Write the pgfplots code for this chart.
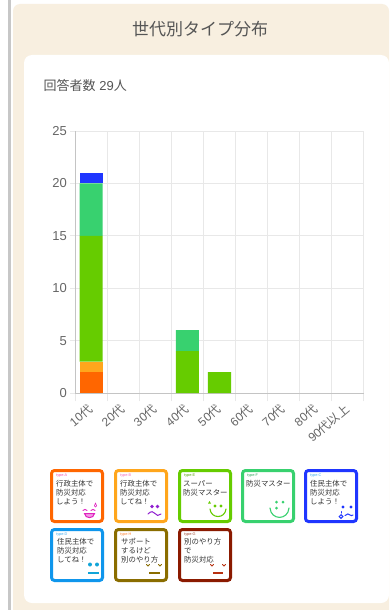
\documentclass[border=0pt]{standalone}
\usepackage{fontspec}
\usepackage{pgfplots}
\pgfplotsset{compat=1.18}
\setmainfont{Liberation Sans}
\newfontfamily\cjk{Noto Sans CJK JP}
\definecolor{cA}{HTML}{FF6600}
\definecolor{cB}{HTML}{FFA61C}
\definecolor{cE}{HTML}{66CC00}
\definecolor{cF}{HTML}{38D16F}
\definecolor{cC}{HTML}{1F36FF}
\definecolor{cD}{HTML}{0F96EC}
\definecolor{cH}{HTML}{8A6D00}
\definecolor{cG}{HTML}{8B1A00}
\definecolor{beige}{HTML}{F8EFE0}
\definecolor{txt}{HTML}{555555}
\definecolor{tick}{HTML}{666666}
\definecolor{gridc}{HTML}{E8E8E8}
\definecolor{axc}{HTML}{C4C4C4}
\newcommand{\cardbox}[5]{% x y colour typelabel typecolour
  \draw[#3,line width=3pt,fill=white,rounded corners=3pt] (#1+1.5,#2+1.5) rectangle (#1+52.5,#2+52.5);
  \node[anchor=west,inner sep=0,text=#5,font=\fontsize{3.8}{4}\selectfont] at (#1+6,#2+6.5) {#4};
}
\newcommand{\cardline}[3]{% x y text
  \node[anchor=west,inner sep=0,text=black!80,font=\cjk\fontsize{7.4}{8}\selectfont] at (#1,#2) {#3};
}
\begin{document}
\begin{tikzpicture}[x=1pt,y=-1pt]
\path[use as bounding box] (0,0) rectangle (389,610);
\fill[white] (0,0) rectangle (389,610);
\fill[black!22] (8,0) rectangle (11,610);
\fill[beige,rounded corners=7pt] (13,4) rectangle (389,625);
\fill[white,rounded corners=8pt] (24,55) rectangle (389,603);
\node[text=txt,inner sep=0,font=\cjk\fontsize{17}{20}\selectfont] at (200,29) {世代別タイプ分布};
\node[anchor=west,text=txt,inner sep=0,font=\fontsize{13}{15}\selectfont] at (43.5,85.5) {{\cjk 回答者数} 29{\cjk 人}};

\begin{axis}[
  at={(75pt,-393pt)},anchor=south west,
  scale only axis,width=289pt,height=262pt,
  xmin=0,xmax=9,ymin=0,ymax=25,
  ybar stacked,bar width=23pt,
  axis x line*=bottom,axis y line*=left,
  axis line style={axc,line width=1pt,-},
  xtick={0.5,1.5,2.5,3.5,4.5,5.5,6.5,7.5,8.5},
  xticklabels={10{\cjk 代},20{\cjk 代},30{\cjk 代},40{\cjk 代},50{\cjk 代},60{\cjk 代},70{\cjk 代},80{\cjk 代},90{\cjk 代以上}},
  minor xtick={0,1,2,3,4,5,6,7,8,9},
  ytick={0,5,10,15,20,25},
  xminorgrids=true,ymajorgrids=true,
  grid style={gridc,line width=1pt},
  minor grid style={gridc,line width=1pt},
  major x tick style={draw=none},
  major y tick style={gridc,line width=1pt},
  minor x tick style={gridc,line width=1pt},
  major tick length=5pt,minor tick length=8pt,
  tick align=outside,
  /pgf/number format/assume math mode=true,
  tick label style={text=tick,font=\fontsize{13}{15}\selectfont},
  x tick label style={xshift=-4pt,yshift=-5pt,rotate=40,anchor=north east,inner sep=0pt,font=\fontsize{12}{14}\selectfont},
  y tick label style={inner sep=0pt,xshift=-3pt},
]
\addplot[fill=cA,draw=none] coordinates {(0.5,2) (3.5,0) (4.5,0)};
\addplot[fill=cB,draw=none] coordinates {(0.5,1) (3.5,0) (4.5,0)};
\addplot[fill=cE,draw=none] coordinates {(0.5,12) (3.5,4) (4.5,2)};
\addplot[fill=cF,draw=none] coordinates {(0.5,5) (3.5,2) (4.5,0)};
\addplot[fill=cC,draw=none] coordinates {(0.5,1) (3.5,0) (4.5,0)};
\end{axis}

% cards
\cardbox{50}{469}{cA}{type-A}{magenta!70}
\cardline{56}{484}{行政主体で}\cardline{56}{493}{防災対応}\cardline{56}{501.5}{しよう！}
\begin{scope}[shift={(50,469)},line cap=round]
\definecolor{f}{HTML}{E020C0}
\draw[f,line width=.9pt] (33,41.5) .. controls (34,40) and (36,40) .. (37,41.5);
\draw[f,line width=.9pt] (41,41.5) .. controls (42,40) and (44,40) .. (45,41.5);
\draw[f,line width=1pt,fill=f!45] (34.5,44.5) -- (44.5,44.5) .. controls (44,50) and (35,50) .. (34.5,44.5) -- cycle;
\draw[f,line width=.6pt] (45.5,34) .. controls (44,36.5) and (44,38) .. (45.5,38) .. controls (47,38) and (47,36.5) .. (45.5,34);
\end{scope}

\cardbox{114}{469}{cB}{type-B}{magenta!60}
\cardline{120}{484}{行政主体で}\cardline{120}{493}{防災対応}\cardline{120}{501.5}{してね！}
\begin{scope}[shift={(114,469)},line cap=round]
\definecolor{f}{HTML}{9020D0}
\fill[f] (38,37.5) circle (1.8) (43.5,37.5) circle (1.8);
\draw[f,line width=1pt] (34,45) .. controls (37,41.5) and (40,42.5) .. (41,44.5) .. controls (42,47) and (45,47) .. (47,45);
\end{scope}

\cardbox{178}{469}{cE}{type-E}{cE!80!black}
\cardline{183}{484}{スーパー}\cardline{183}{493}{防災マスター}
\begin{scope}[shift={(178,469)},line cap=round]
\fill[cE] (30,34.5) -- (31.5,32) -- (33,34.5) -- cycle;
\fill[cE] (37,37) circle (1.6) (43,37) circle (1.6);
\draw[cE,line width=1.1pt] (32,40) .. controls (33,50) and (47,50) .. (48,40);
\end{scope}

\cardbox{241}{469}{cF}{type-F}{cF!80!black}
\cardline{246}{484}{防災マスター}
\begin{scope}[shift={(241,469)},line cap=round]
\fill[cF] (35.5,33) circle (1.5) (42,33) circle (1.5) (35.5,39) circle (1.5);
\draw[cF,line width=1.1pt] (29,39) .. controls (30,51.5) and (47,51.5) .. (48,39);
\end{scope}

\cardbox{304}{469}{cC}{type-C}{cD!80}
\cardline{310}{484}{住民主体で}\cardline{310}{493}{防災対応}\cardline{310}{501.5}{しよう！}
\begin{scope}[shift={(304,469)},line cap=round]
\fill[cC] (39,38) circle (1.6) (47,38) circle (1.6);
\draw[cC,line width=1pt] (37,47.5) circle (1.8);
\draw[cC,line width=1pt] (37,44) -- (37,42.5);
\draw[cC,line width=1pt] (41,46.5) .. controls (43,44.5) and (45,44.5) .. (46,46) .. controls (47,47) and (48,46.5) .. (49,46);
\end{scope}

\cardbox{50}{528}{cD}{type-D}{cD!80}
\cardline{57}{542}{住民主体で}\cardline{57}{551}{防災対応}\cardline{57}{560}{してね！}
\begin{scope}[shift={(50,528)}]
\definecolor{f}{HTML}{12A5D8}
\fill[f] (40,36.5) circle (2) (47,36.5) circle (2);
\fill[f] (38,44) rectangle (49,46);
\end{scope}

\cardbox{114}{528}{cH}{type-H}{cA!80}
\cardline{121}{542}{サポート}\cardline{121}{551}{するけど}\cardline{121}{559.5}{別のやり方}
\begin{scope}[shift={(114,528)},line cap=round]
\draw[cH,line width=1pt] (32.5,36.5) -- (34,38) -- (35.5,36.5);
\draw[cH,line width=1pt] (44.5,36.5) -- (46,38) -- (47.5,36.5);
\fill[cH] (35,44) rectangle (46,46.3);
\end{scope}

\cardbox{178}{528}{cG}{type-G}{cG!80}
\cardline{184}{542}{別のやり方}\cardline{184}{551}{で}\cardline{184}{559.5}{防災対応}
\begin{scope}[shift={(178,528)},line cap=round]
\definecolor{f}{HTML}{B83010}
\draw[f,line width=1pt] (32.5,36.5) -- (34,38) -- (35.5,36.5);
\draw[f,line width=1pt] (44.5,36.5) -- (46,38) -- (47.5,36.5);
\fill[f] (35,44) rectangle (45,46.3);
\end{scope}
\end{tikzpicture}
\end{document}
